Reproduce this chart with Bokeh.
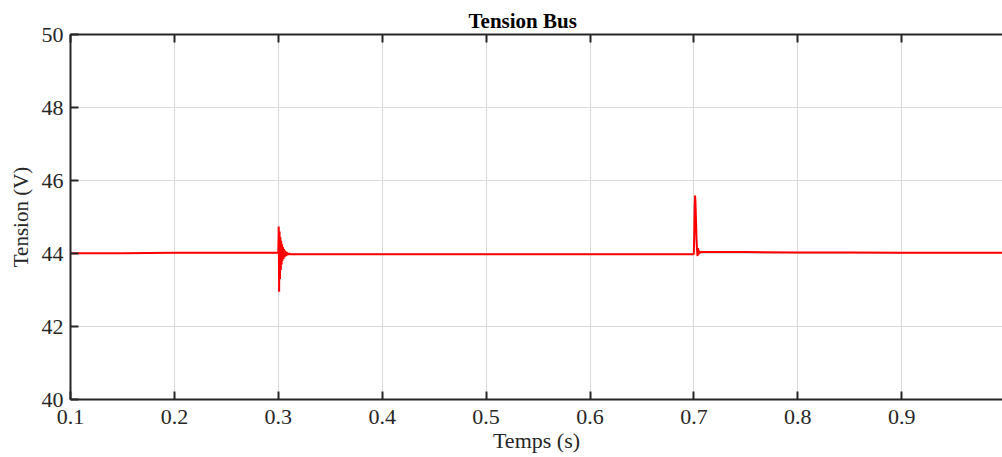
from bokeh.plotting import figure
from bokeh.models import LinearAxis, Range1d, FixedTicker
from bokeh.embed import file_html
from bokeh.resources import INLINE

# Data
t_before = [0.10, 0.15, 0.20, 0.25, 0.2999]
v_before = [44.01, 44.01, 44.02, 44.02, 44.02]

t_spike1 = [0.3000, 0.3004, 0.3008, 0.3012, 0.3016, 0.3020, 0.3024, 0.3028, 0.3032,
            0.3036, 0.3040, 0.3045, 0.3050, 0.3055, 0.3060, 0.3066, 0.3072, 0.3080,
            0.3090, 0.3100, 0.3115]
v_spike1 = [44.01, 44.74, 42.95, 44.60, 43.30, 44.45, 43.55, 44.35, 43.70,
            44.25, 43.80, 44.18, 43.85, 44.12, 43.90, 44.08, 43.93, 44.04,
            43.96, 44.00, 43.98]

t_mid = [0.35, 0.40, 0.50, 0.60, 0.6999]
v_mid = [43.98, 43.98, 43.98, 43.98, 43.98]

t_spike2 = [0.7003, 0.7007, 0.7011, 0.7015, 0.7020, 0.7025, 0.7030, 0.7035,
            0.7040, 0.7045, 0.7050, 0.7060, 0.7070]
v_spike2 = [44.50, 45.30, 45.59, 45.40, 44.90, 44.40, 44.10, 43.93,
            44.15, 43.97, 44.07, 44.02, 44.04]

t_after = [0.75, 0.80, 0.85, 0.90, 0.95, 1.00]
v_after = [44.04, 44.03, 44.03, 44.02, 44.02, 44.02]

x_ticks = [0.1, 0.2, 0.3, 0.4, 0.5, 0.6, 0.7, 0.8, 0.9, 1.0]
y_ticks = [40, 42, 44, 46, 48, 50]

t = t_before + t_spike1 + t_mid + t_spike2 + t_after
v = v_before + v_spike1 + v_mid + v_spike2 + v_after

FONT = "Liberation Serif"

p = figure(width=1002, height=457, output_backend="svg", toolbar_location=None,
           x_range=Range1d(0.1, 0.997), y_range=Range1d(40, 50),
           title="Tension Bus", x_axis_label="Temps (s)", y_axis_label="Tension (V)",
           min_border_left=70, min_border_right=0, min_border_top=34, min_border_bottom=58)

p.title.align = "left"
p.title.offset = 398
p.title.text_font = FONT
p.title.text_font_size = "21px"
p.title.text_font_style = "bold"
p.title.text_color = "#000000"
p.title.standoff = 4

p.line(t, v, line_color="#ff0000", line_width=2)

for ax in (p.xaxis[0], p.yaxis[0]):
    ax.major_label_text_font = FONT
    ax.major_label_text_font_size = "22px"
    ax.major_label_text_color = "#262626"
    ax.axis_label_text_font = FONT
    ax.axis_label_text_font_size = "22px"
    ax.axis_label_text_font_style = "normal"
    ax.axis_label_text_color = "#262626"
    ax.axis_line_color = "#262626"
    ax.axis_line_width = 2
    ax.major_tick_line_color = "#262626"
    ax.major_tick_line_width = 2
    ax.major_tick_in = 8
    ax.major_tick_out = 0
    ax.minor_tick_line_color = None

p.xaxis[0].ticker = FixedTicker(ticks=x_ticks)
p.yaxis[0].ticker = FixedTicker(ticks=y_ticks)
p.xaxis[0].major_label_standoff = 10
p.xaxis[0].axis_label_standoff = 1
p.yaxis[0].major_label_standoff = 7
p.yaxis[0].axis_label_standoff = 6
p.yaxis[0].axis_label_text_font_size = "21px"

top = LinearAxis(ticker=FixedTicker(ticks=x_ticks),
                 major_label_overrides={tk: "" for tk in x_ticks},
                 axis_line_color="#262626", axis_line_width=2,
                 major_tick_line_color="#262626", major_tick_line_width=2,
                 major_tick_in=8, major_tick_out=0, minor_tick_line_color=None,
                 major_label_standoff=0)
p.add_layout(top, "above")

p.xgrid.ticker = FixedTicker(ticks=x_ticks)
p.ygrid.ticker = FixedTicker(ticks=y_ticks)
p.grid.grid_line_color = "#d9d9d9"
p.grid.grid_line_width = 1
p.outline_line_color = None
p.background_fill_color = "white"
p.border_fill_color = "white"

open("out.html", "w").write(file_html(p, INLINE))
